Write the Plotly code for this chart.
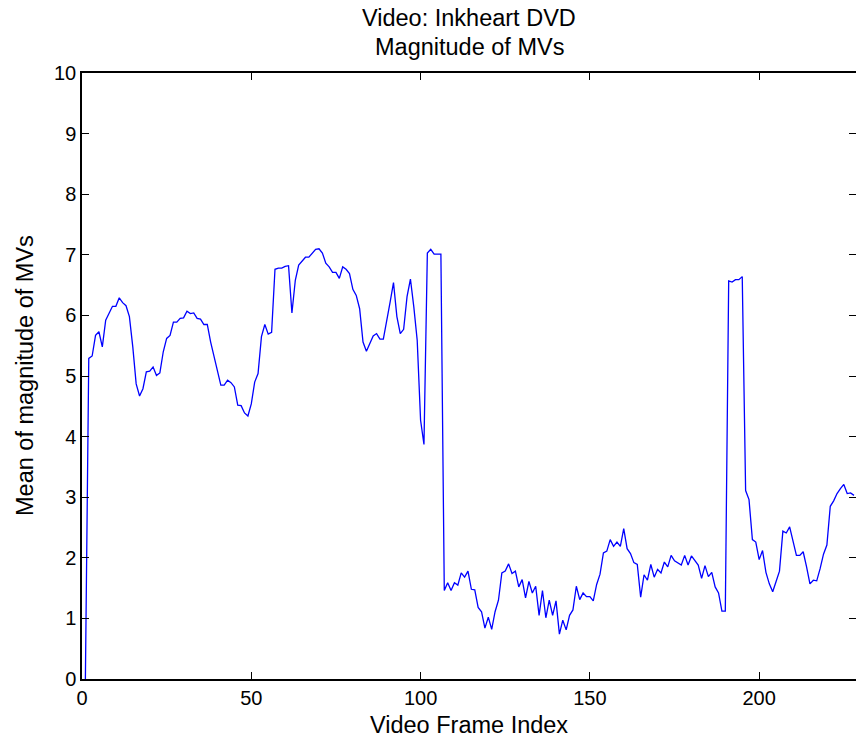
import plotly.graph_objects as go

# Mean magnitude of motion vectors per frame (frames 1..228)
frame_values = [
    0.00, 5.29, 5.33, 5.67, 5.73, 5.48, 5.92, 6.03, 6.15, 6.15,
    6.29, 6.21, 6.16, 5.98, 5.48, 4.87, 4.67, 4.79, 5.07, 5.08,
    5.15, 5.01, 5.05, 5.40, 5.62, 5.67, 5.89, 5.89, 5.95, 5.96,
    6.07, 6.03, 6.04, 5.95, 5.94, 5.85, 5.85, 5.56, 5.32, 5.10,
    4.85, 4.85, 4.93, 4.89, 4.82, 4.52, 4.51, 4.39, 4.34, 4.54,
    4.90, 5.04, 5.65, 5.85, 5.69, 5.72, 6.76, 6.78, 6.78, 6.81,
    6.82, 6.04, 6.58, 6.83, 6.90, 6.96, 6.96, 7.02, 7.09, 7.10,
    7.03, 6.86, 6.80, 6.71, 6.71, 6.61, 6.80, 6.76, 6.69, 6.43,
    6.33, 6.11, 5.56, 5.41, 5.54, 5.66, 5.70, 5.61, 5.61, 5.89,
    6.22, 6.54, 5.98, 5.70, 5.77, 6.31, 6.60, 6.14, 5.59, 4.27,
    3.87, 7.03, 7.09, 7.01, 7.01, 7.01, 1.46, 1.59, 1.46, 1.59,
    1.55, 1.75, 1.68, 1.78, 1.48, 1.47, 1.18, 1.11, 0.84, 1.02,
    0.82, 1.11, 1.30, 1.75, 1.78, 1.90, 1.74, 1.78, 1.52, 1.64,
    1.34, 1.61, 1.42, 1.53, 1.05, 1.46, 1.01, 1.30, 1.05, 1.29,
    0.74, 0.97, 0.81, 1.05, 1.14, 1.53, 1.31, 1.42, 1.36, 1.36,
    1.29, 1.56, 1.73, 2.08, 2.11, 2.30, 2.19, 2.26, 2.19, 2.48,
    2.15, 2.07, 1.92, 1.89, 1.35, 1.72, 1.63, 1.89, 1.68, 1.81,
    1.75, 1.93, 1.85, 2.04, 1.95, 1.91, 1.88, 2.04, 1.88, 2.03,
    1.96, 1.88, 1.66, 1.87, 1.69, 1.76, 1.52, 1.42, 1.12, 1.12,
    6.57, 6.55, 6.59, 6.59, 6.64, 3.11, 2.96, 2.30, 2.26, 1.97,
    2.12, 1.76, 1.57, 1.44, 1.61, 1.78, 2.44, 2.41, 2.51, 2.26,
    2.04, 2.04, 2.10, 1.85, 1.57, 1.63, 1.62, 1.82, 2.06, 2.21,
    2.85, 2.94, 3.06, 3.14, 3.21, 3.06, 3.07, 3.03,
]
frame_index = list(range(1, len(frame_values) + 1))

x_ticks = [0, 50, 100, 150, 200]
y_ticks = list(range(0, 11))
x_range = [0, 228.6]
y_range = [0, 10]

title_lines = ["Video: Inkheart DVD", "Magnitude of MVs"]
x_title = "Video Frame Index"
y_title = "Mean of magnitude of MVs"

FONT = "Liberation Sans, Arial, Helvetica, sans-serif"
FS = 20
FS_LABEL = 23.5

W, H = 856, 745
L, R, T, B = 82, 0, 73, 66
pw, ph = W - L - R, H - T - B

fig = go.Figure()
fig.add_trace(go.Scatter(x=frame_index, y=frame_values, mode="lines",
                         line=dict(color="#0000ff", width=1.3),
                         showlegend=False, hoverinfo="skip"))
# invisible trace to carry the right-side tick axis
fig.add_trace(go.Scatter(x=[x_range[0]], y=[y_range[0]], yaxis="y2", mode="lines",
                         line=dict(color="rgba(0,0,0,0)"), showlegend=False,
                         hoverinfo="skip"))

axis_common = dict(showgrid=False, zeroline=False, ticks="inside", ticklen=7,
                   tickwidth=1, tickcolor="black", linecolor="black", linewidth=1.5,
                   tickfont=dict(family=FONT, size=FS, color="black"))

fig.update_layout(
    width=W, height=H,
    margin=dict(l=L, r=R, t=T, b=B, pad=0),
    paper_bgcolor="white", plot_bgcolor="white",
    xaxis=dict(range=x_range, tickvals=x_ticks, showline=True, mirror="ticks",
               **axis_common),
    yaxis=dict(range=y_range, tickvals=y_ticks, showline=True, mirror=False,
               **axis_common),
    yaxis2=dict(range=y_range, tickvals=y_ticks, overlaying="y", side="right",
                showline=False, showticklabels=False, showgrid=False, zeroline=False,
                ticks="inside", ticklen=7, tickcolor="black"),
)

def py(p):
    return (H - B - p) / ph

def px(p):
    return (p - L) / pw

lab_font = dict(family=FONT, size=FS_LABEL, color="black")
ann = [
    dict(text=title_lines[0], x=0.5, y=py(18), xref="paper", yref="paper",
         xanchor="center", yanchor="middle", showarrow=False, font=lab_font),
    dict(text=title_lines[1], x=0.5, y=py(47), xref="paper", yref="paper",
         xanchor="center", yanchor="middle", showarrow=False, font=lab_font),
    dict(text=x_title, x=0.5, y=py(725), xref="paper", yref="paper",
         xanchor="center", yanchor="middle", showarrow=False, font=lab_font),
    dict(text=y_title, x=px(25), y=0.5, xref="paper", yref="paper",
         xanchor="center", yanchor="middle", showarrow=False, textangle=-90,
         font=lab_font),
]
fig.update_layout(annotations=ann)

fig.write_html("out.html")
